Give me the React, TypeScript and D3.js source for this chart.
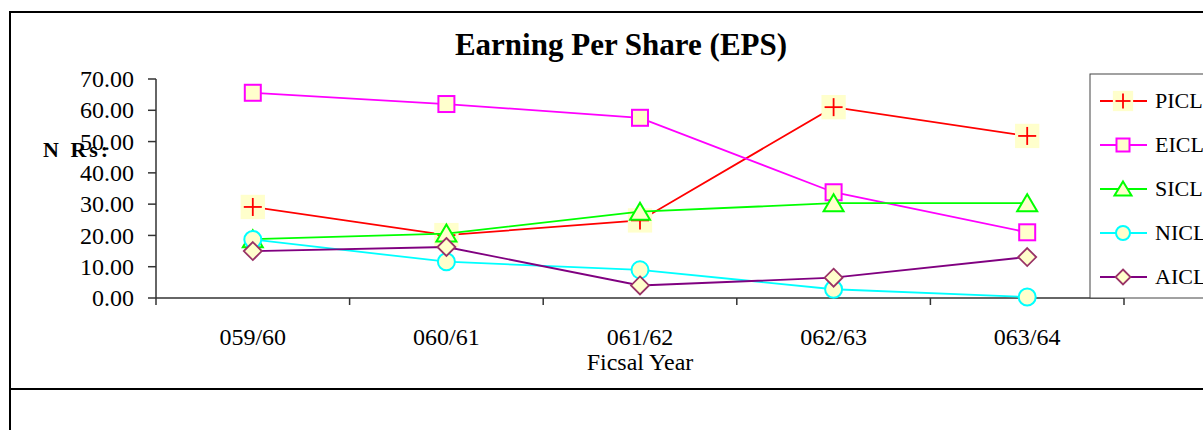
import React from "react";
import * as d3 from "d3";

const years = ["059/60", "060/61", "061/62", "062/63", "063/64"];
const picl = [29.1, 20.1, 24.8, 61.0, 51.8];
const eicl = [65.6, 62.0, 57.6, 33.8, 21.0];
const sicl = [18.8, 20.6, 27.6, 30.3, 30.3];
const nicl = [18.7, 11.6, 9.0, 2.8, 0.3];
const aicl = [15.0, 16.3, 4.0, 6.5, 13.1];
const yTicks = [0, 10, 20, 30, 40, 50, 60, 70];

const series = [
  { name: "PICL", values: picl, color: "#ff0000", stroke: "#ff0000", shape: "plus" },
  { name: "EICL", values: eicl, color: "#ff00ff", stroke: "#ff00ff", shape: "square" },
  { name: "SICL", values: sicl, color: "#00ff00", stroke: "#00ff00", shape: "triangle" },
  { name: "NICL", values: nicl, color: "#00ffff", stroke: "#00ffff", shape: "circle" },
  { name: "AICL", values: aicl, color: "#800080", stroke: "#993366", shape: "diamond" },
];

const FILL = "#ffffcc";
const FONT = "'Liberation Serif', 'Times New Roman', serif";

// draws one marker centred on (x, y); s = half size
function Marker({ shape, x, y, s, color, stroke }: any) {
  if (shape === "plus") {
    const b = s * 1.35;
    return (
      <g>
        <rect x={x - b} y={y - b} width={b * 2} height={b * 2} fill={FILL} />
        <line x1={x - s} x2={x + s} y1={y} y2={y} stroke={color} strokeWidth={1.8} />
        <line x1={x} x2={x} y1={y - s} y2={y + s} stroke={color} strokeWidth={1.8} />
      </g>
    );
  }
  if (shape === "square") {
    return <rect x={x - s + 1} y={y - s + 1} width={s * 2 - 2} height={s * 2 - 2} fill={FILL} stroke={stroke} strokeWidth={2} />;
  }
  if (shape === "triangle") {
    const p = `${x},${y - s} ${x + s + 1},${y + s - 1} ${x - s - 1},${y + s - 1}`;
    return <polygon points={p} fill={FILL} stroke={stroke} strokeWidth={2} />;
  }
  if (shape === "circle") {
    return <circle cx={x} cy={y} r={s - 0.5} fill={FILL} stroke={stroke} strokeWidth={2} />;
  }
  const p = `${x},${y - s} ${x + s},${y} ${x},${y + s} ${x - s},${y}`;
  return <polygon points={p} fill={FILL} stroke={stroke} strokeWidth={1.8} />;
}

export default function App() {
  const width = 1203, height = 430;

  const x = d3.scaleBand().domain(years).range([156, 1124]);
  const y = d3.scaleLinear().domain([0, 70]).range([298, 79]);
  const fmt = d3.format(".2f");
  const cx = (d: string) => (x(d) as number) + x.bandwidth() / 2;

  const line = d3.line<number>().x((d, i) => cx(years[i])).y(d => y(d));

  const edges = years.map(d => x(d) as number).concat([x.range()[1]]);

  const legendX = 1090, legendY = 74;
  const legendRow = d3.scalePoint().domain(series.map(s => s.name)).range([101, 277]);

  return (
    <svg width={width} height={height} style={{ position: "absolute", left: 0, top: 0, background: "#fff" }} fontFamily={FONT}>
      {/* outer frames */}
      <rect x={10} y={12} width={1300} height={377} fill="none" stroke="#000" strokeWidth={2} />
      <rect x={10} y={389} width={1300} height={100} fill="none" stroke="#000" strokeWidth={2} />

      <text x={621} y={55} textAnchor="middle" fontSize={31} fontWeight="bold">Earning Per Share (EPS)</text>

      {/* y axis */}
      <line x1={156} x2={156} y1={y(70)} y2={y(0)} stroke="#333" strokeWidth={1.5} />
      {yTicks.map(t => (
        <g key={t}>
          <line x1={148} x2={156} y1={y(t)} y2={y(t)} stroke="#333" strokeWidth={1.5} />
          <text x={134} y={y(t)} dy="0.34em" textAnchor="end" fontSize={24}>{fmt(t)}</text>
        </g>
      ))}
      <text x={43} y={157} fontSize={22} fontWeight="bold" letterSpacing={3}>N Rs:</text>

      {/* x axis */}
      <line x1={156} x2={1124} y1={y(0)} y2={y(0)} stroke="#333" strokeWidth={1.5} />
      {edges.map((e, i) => (
        <line key={i} x1={e} x2={e} y1={y(0)} y2={y(0) + 7} stroke="#333" strokeWidth={1.5} />
      ))}
      {years.map(d => (
        <text key={d} x={cx(d)} y={345} textAnchor="middle" fontSize={24}>{d}</text>
      ))}
      <text x={cx("061/62")} y={370} textAnchor="middle" fontSize={24}>Ficsal Year</text>

      {/* series */}
      {series.map(s => (
        <g key={s.name}>
          <path d={line(s.values) as string} fill="none" stroke={s.color} strokeWidth={1.8} />
          {s.values.map((v, i) => (
            <Marker key={i} shape={s.shape} x={cx(years[i])} y={y(v)} s={9} color={s.color} stroke={s.stroke} />
          ))}
        </g>
      ))}

      {/* legend */}
      <rect x={legendX} y={legendY} width={200} height={y(0) - legendY} fill="#fff" stroke="#444" strokeWidth={1} />
      {series.map(s => {
        const ly = legendRow(s.name) as number;
        return (
          <g key={s.name}>
            <line x1={1100} x2={1147} y1={ly} y2={ly} stroke={s.color} strokeWidth={1.8} />
            <Marker shape={s.shape} x={1123} y={ly} s={7.5} color={s.color} stroke={s.stroke} />
            <text x={1155} y={ly} dy="0.34em" fontSize={22}>{s.name}</text>
          </g>
        );
      })}
    </svg>
  );
}
